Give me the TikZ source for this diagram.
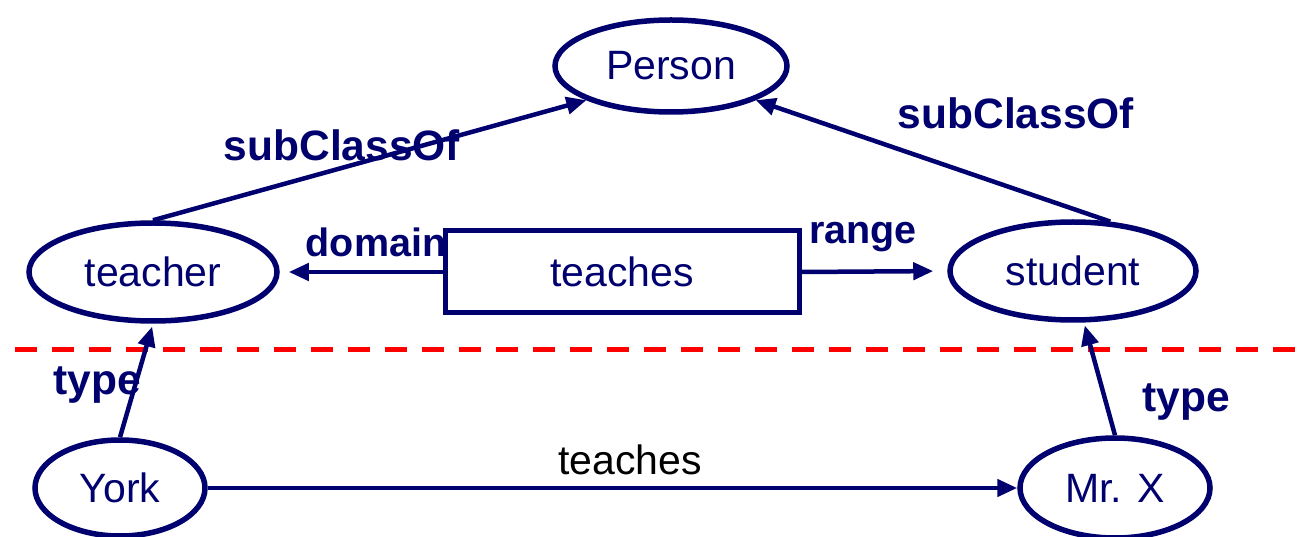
\documentclass[tikz,border=0pt]{standalone}
\usepackage{fontspec}
\setmainfont{Liberation Sans}
\usetikzlibrary{shapes.geometric,arrows.meta}
\definecolor{navy}{RGB}{0,0,110}
\definecolor{dashred}{RGB}{255,0,0}
\tikzset{
  cls/.style={ellipse,draw=navy,line width=5.5pt,inner sep=0pt,text=navy,font=\fontsize{41}{49}\selectfont},
  prop/.style={rectangle,draw=navy,line width=5pt,inner sep=0pt,text=navy,font=\fontsize{41}{49}\selectfont},
  lbl/.style={text=navy,font=\fontsize{42.5}{50}\selectfont\bfseries,inner sep=0pt},
  smalllbl/.style={text=navy,font=\fontsize{39.5}{47}\selectfont\bfseries,inner sep=0pt},
  plainlbl/.style={text=black,font=\fontsize{41}{49}\selectfont,inner sep=0pt},
  conn/.style={draw=navy,line width=4.5pt,-{Triangle[length=20pt,width=17pt]}},
}
\begin{document}
\begin{tikzpicture}[x=1pt,y=-1pt]
\useasboundingbox (0,0) rectangle (1299,537);
% dashed separator
\coordinate (dl) at (15,350);
\coordinate (dr) at (1299,350);
\draw[dashred,line width=5pt,dash pattern=on 22pt off 15pt] (dl) -- (dr);
% nodes
\node[cls,minimum width=232pt,minimum height=92pt] (person) at (671,66) {Person};
\node[cls,minimum width=248pt,minimum height=98pt] (teacher) at (153,272) {teacher};
\node[cls,minimum width=246pt,minimum height=98pt] (student) at (1073,271) {student};
\node[prop,minimum width=354pt,minimum height=82pt] (teaches) at (622,272) {teaches};
\node[cls,minimum width=170pt,minimum height=96pt] (york) at (120,488) {York};
\node[cls,minimum width=190pt,minimum height=100pt] (mrx) at (1115,488) {Mr. X};
% connectors
\draw[conn] (teacher.north) -- (person.202);
\draw[conn] (student.53) -- (person.338);
\draw[conn,shorten >=9pt] (teaches.west) -- (teacher.east);
\draw[conn,shorten >=14pt] (teaches.east) -- (student.west);
\draw[conn,shorten >=3pt] (york.north) -- (teacher.south);
\draw[conn,shorten >=3pt] (mrx.north) -- (student.282);
\draw[conn] (york.east) -- (mrx.west);
% labels
\node[lbl] (l1) at (342,145) {subClassOf};
\node[lbl] (l2) at (1016,113) {subClassOf};
\node[smalllbl] (l3) at (376,242) {domain};
\node[smalllbl] (l4) at (863,237) {range};
\node[lbl] (l5) at (97,385) {type};
\node[lbl] (l6) at (1186,402) {type};
\node[plainlbl] (l7) at (630,460) {teaches};
\end{tikzpicture}
\end{document}
